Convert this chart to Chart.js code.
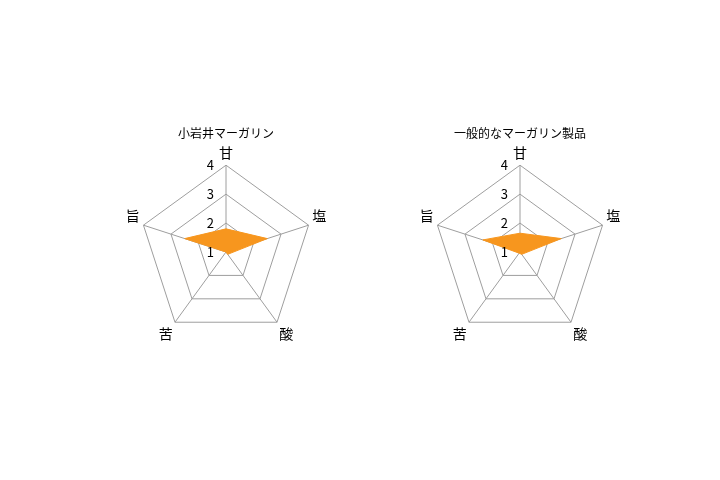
<!DOCTYPE html>
<html lang="ja">
<head>
<meta charset="utf-8">
<script src="https://cdn.jsdelivr.net/npm/chart.js@4"></script>
<style>
  body { margin: 0; background: #fff; }
  .box { position: absolute; }
  #left { left: 86px; top: 114px; width: 280px; height: 236px; }
  #right { left: 380px; top: 114px; width: 280px; height: 236px; }
</style>
</head>
<body>
<div class="box" id="left"><canvas id="koiwaiChart"></canvas></div>
<div class="box" id="right"><canvas id="generalChart"></canvas></div>
<script>
const tasteLabels = ['甘', '塩', '酸', '苦', '旨'];
const koiwaiValues = [1.8, 2.5, 1.1, 1.0, 2.5];
const generalValues = [1.65, 2.5, 1.1, 1.05, 2.35];
const tickValues = [1, 2, 3, 4];

const fontFamily = '"Noto Sans CJK JP", "Noto Sans", sans-serif';
const gridColor = '#9e9e9e';
const fillColor = 'rgb(247, 150, 30)';

// ticks sit left of the vertical axis in the original, so draw them ourselves
const tickLabelPlugin = {
  id: 'tickLabels',
  afterDatasetsDraw(chart) {
    const scale = chart.scales.r;
    const ctx = chart.ctx;
    ctx.save();
    ctx.font = '13px ' + fontFamily;
    ctx.fillStyle = '#000';
    ctx.textAlign = 'right';
    ctx.textBaseline = 'middle';
    tickValues.forEach(value => {
      const dist = scale.getDistanceFromCenterForValue(value);
      ctx.fillText(String(value), scale.xCenter - 12, scale.yCenter - dist);
    });
    ctx.restore();
  }
};

function makeRadar(canvasId, title, values) {
  const ctx = document.getElementById(canvasId).getContext('2d');
  return new Chart(ctx, {
    type: 'radar',
    data: {
      labels: tasteLabels,
      datasets: [{
        data: values,
        backgroundColor: fillColor,
        borderColor: fillColor,
        borderWidth: 1,
        pointRadius: 0,
        fill: true
      }]
    },
    options: {
      responsive: true,
      maintainAspectRatio: false,
      animation: false,
      layout: { padding: 0 },
      plugins: {
        legend: { display: false },
        tooltip: { enabled: false },
        title: {
          display: true,
          text: title,
          color: '#000',
          font: { family: fontFamily, size: 12, weight: 'normal' },
          padding: { top: 12, bottom: -6 }
        }
      },
      scales: {
        r: {
          min: 1,
          max: 4,
          ticks: { display: false, stepSize: 1 },
          grid: { color: gridColor, lineWidth: 1 },
          angleLines: { color: gridColor, lineWidth: 1 },
          pointLabels: {
            color: '#000',
            padding: 4,
            font: { family: fontFamily, size: 14 }
          }
        }
      }
    },
    plugins: [tickLabelPlugin]
  });
}

makeRadar('koiwaiChart', '小岩井マーガリン', koiwaiValues);
makeRadar('generalChart', '一般的なマーガリン製品', generalValues);
</script>
</body>
</html>
